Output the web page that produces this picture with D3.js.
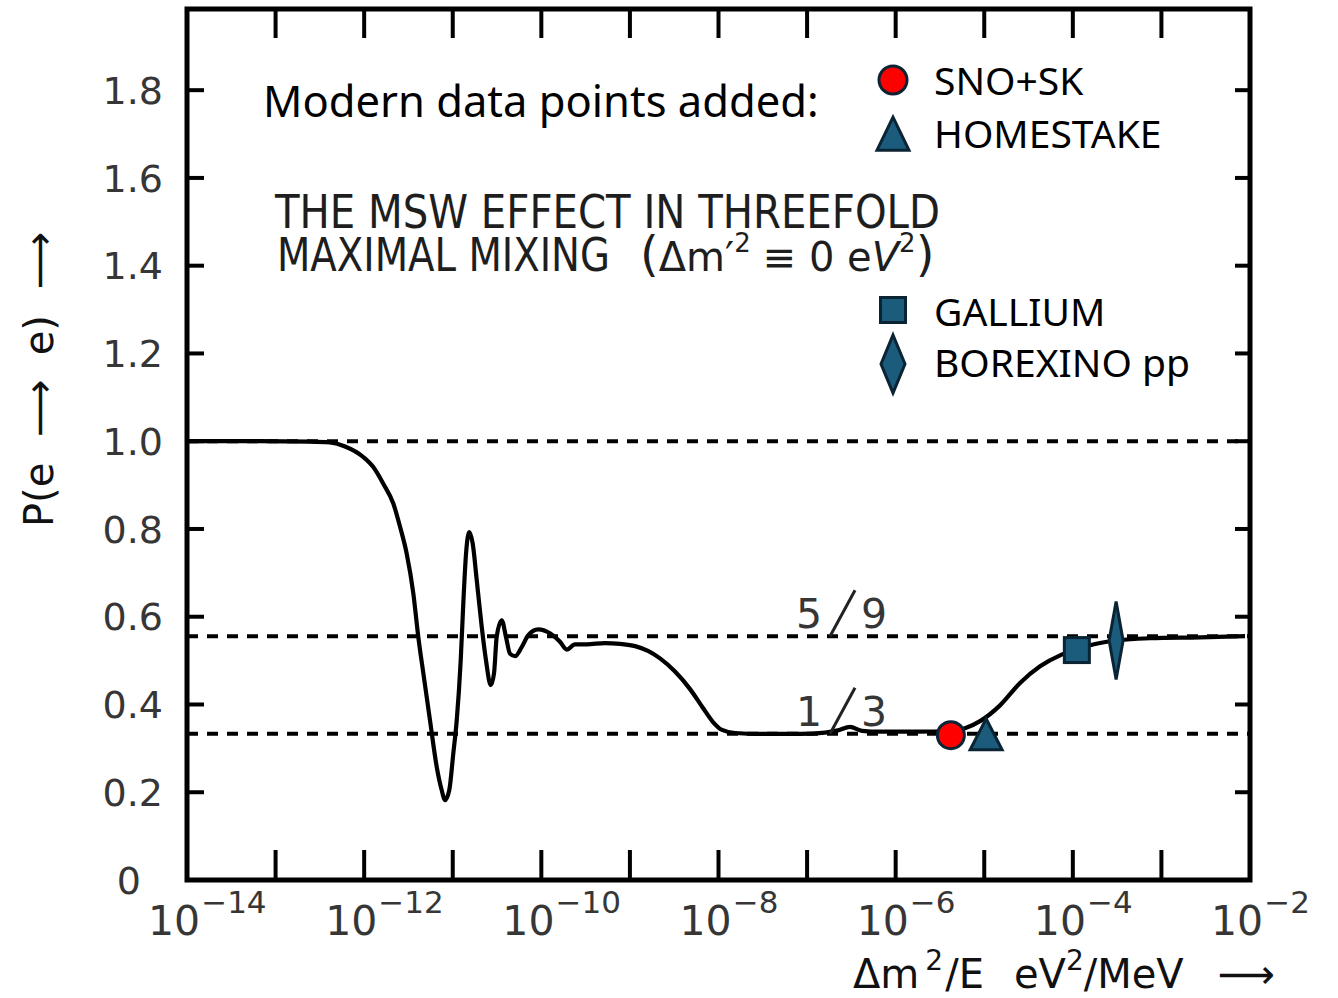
<!DOCTYPE html>
<html>
<head>
<meta charset="utf-8">
<script src="https://cdn.jsdelivr.net/npm/d3@7"></script>
<style>
  html, body { margin: 0; padding: 0; background: #ffffff; }
  svg { display: block; }
</style>
</head>
<body>
<div id="chart"></div>
<script>
// Electron-neutrino survival probability vs Δm²/E (threefold maximal mixing, MSW)
// Curve samples: log10(Δm²/E in eV²/MeV) and P(e→e)
const curveLogX = [
  -14.000, -13.180, -12.610, -12.386, -12.216, -12.010, -11.897, -11.784, -11.671, -11.595,
  -11.520, -11.445, -11.389, -11.332, -11.257, -11.181, -11.125, -11.087, -11.039, -10.994,
  -10.955, -10.910, -10.881, -10.850, -10.813, -10.775, -10.729, -10.673, -10.625, -10.571,
  -10.534, -10.504, -10.447, -10.399, -10.354, -10.297, -10.221, -10.147, -10.034, -9.902,
  -9.789, -9.713, -9.620, -9.488, -9.281, -9.112, -8.942, -8.796, -8.660, -8.491,
  -8.321, -8.175, -8.062, -7.960, -7.813, -7.531, -7.080, -6.797, -6.651, -6.515,
  -6.380, -6.177, -5.725, -5.443, -5.217, -5.047, -4.822, -4.596, -4.370, -4.144,
  -3.975, -3.806, -3.580, -3.128, -2.564, -2.056
];
const curveP = [
  1.000, 1.000, 0.999, 0.997, 0.988, 0.964, 0.941, 0.903, 0.858, 0.805,
  0.744, 0.653, 0.554, 0.471, 0.364, 0.258, 0.205, 0.182, 0.205, 0.288,
  0.364, 0.501, 0.630, 0.744, 0.793, 0.767, 0.683, 0.577, 0.501, 0.444,
  0.471, 0.554, 0.592, 0.554, 0.516, 0.510, 0.531, 0.558, 0.571, 0.562,
  0.543, 0.525, 0.537, 0.537, 0.540, 0.538, 0.533, 0.522, 0.505, 0.475,
  0.435, 0.392, 0.360, 0.342, 0.335, 0.333, 0.333, 0.336, 0.341, 0.349,
  0.340, 0.338, 0.338, 0.339, 0.346, 0.362, 0.398, 0.449, 0.487, 0.512,
  0.524, 0.535, 0.544, 0.551, 0.553, 0.5556
];

// Reference levels drawn dashed
const refLevels = [1.0, 5 / 9, 1 / 3];
const fractionLabels = [["5", "9"], ["1", "3"]];
const fractionValues = [5 / 9, 1 / 3];

// Experimental points
const expNames = ["SNO+SK", "HOMESTAKE", "GALLIUM", "BOREXINO pp"];
const expX = [4.2e-6, 1.05e-5, 1.11e-4, 3.08e-4];
const expP = [0.330, 0.321, 0.524, 0.546];
const expShape = ["circle", "triangle", "square", "diamond"];

// Axis ticks
const xTickExponents = [-14, -12, -10, -8, -6, -4, -2];
const xMinorExponents = d3.range(-13, -2);
const yTickValues = [0, 0.2, 0.4, 0.6, 0.8, 1.0, 1.2, 1.4, 1.6, 1.8];

(function draw() {
  const W = 1338, H = 998;
  const svg = d3.select("#chart").append("svg")
    .attr("width", W).attr("height", H)
    .attr("viewBox", `0 0 ${W} ${H}`);

  const pLeft = 187, pRight = 1250, pTop = 9, pBottom = 880;
  const xs = d3.scaleLog().domain([1e-14, 1e-2]).range([pLeft, pRight]);
  const ys = d3.scaleLinear().domain([0, 1.985]).range([pBottom, pTop]);

  const numFont = "'DejaVu Sans', sans-serif";
  const textFont = "'Noto Sans', 'Open Sans', sans-serif";
  const numColor = "#363636";
  const markFill = "#1b5b7b";
  const markStroke = "#0b2434";
  const longArrow = "\u27F6";

  // Dashed reference lines
  svg.append("g").selectAll("line").data(refLevels).join("line")
    .attr("x1", pLeft).attr("x2", pRight)
    .attr("y1", d => ys(d)).attr("y2", d => ys(d))
    .attr("stroke", "#000").attr("stroke-width", 4)
    .attr("stroke-dasharray", "11,9");

  // Frame ticks (inside)
  const ticks = svg.append("g").attr("stroke", "#000").attr("stroke-width", 4);
  xMinorExponents.forEach(e => {
    const x = xs(Math.pow(10, e));
    ticks.append("line").attr("x1", x).attr("x2", x).attr("y1", pTop).attr("y2", pTop + 29);
    ticks.append("line").attr("x1", x).attr("x2", x).attr("y1", pBottom).attr("y2", pBottom - 30);
  });
  yTickValues.filter(v => v > 0).forEach(v => {
    const y = ys(v);
    ticks.append("line").attr("x1", pLeft).attr("x2", pLeft + 17).attr("y1", y).attr("y2", y);
    ticks.append("line").attr("x1", pRight).attr("x2", pRight - 15).attr("y1", y).attr("y2", y);
  });

  // Frame
  svg.append("rect")
    .attr("x", pLeft).attr("y", pTop)
    .attr("width", pRight - pLeft).attr("height", pBottom - pTop)
    .attr("fill", "none").attr("stroke", "#000").attr("stroke-width", 5);

  // Y tick labels
  svg.append("g").selectAll("text").data(yTickValues).join("text")
    .attr("x", d => d === 0 ? 141 : 163)
    .attr("y", d => ys(d))
    .attr("dy", "0.36em")
    .attr("text-anchor", "end")
    .attr("font-family", numFont).attr("font-size", 38)
    .attr("fill", numColor)
    .text(d => d === 0 ? "0" : d.toFixed(1));

  // X tick labels: 10 with superscript exponent
  const xl = svg.append("g").attr("font-family", numFont).attr("fill", numColor);
  xTickExponents.forEach(e => {
    const t = xl.append("text")
      .attr("x", xs(Math.pow(10, e)) - 39).attr("y", 935)
      .attr("font-size", 41);
    t.append("tspan").text("10");
    t.append("tspan").attr("dy", -22).attr("dx", 1).attr("font-size", 31).text("\u2212" + Math.abs(e));
  });

  // Curve
  const line = d3.line()
    .x(d => xs(Math.pow(10, d[0])))
    .y(d => ys(d[1]))
    .curve(d3.curveMonotoneX);
  svg.append("path")
    .datum(curveLogX.map((x, i) => [x, curveP[i]]))
    .attr("d", line)
    .attr("fill", "none").attr("stroke", "#000")
    .attr("stroke-width", 4.2).attr("stroke-linejoin", "round");

  // Fraction labels above the 5/9 and 1/3 lines
  const slashFoot = Math.pow(10, -6.741);
  fractionValues.forEach((v, i) => {
    const xf = xs(slashFoot), yf = ys(v);
    const g = svg.append("g").attr("font-family", numFont).attr("font-size", 41).attr("fill", numColor);
    g.append("text").attr("x", xf - 8).attr("y", yf - 8).attr("text-anchor", "end").text(fractionLabels[i][0]);
    g.append("text").attr("x", xf + 31).attr("y", yf - 8).text(fractionLabels[i][1]);
    svg.append("line")
      .attr("x1", xf).attr("y1", yf)
      .attr("x2", xf + 25).attr("y2", yf - 46)
      .attr("stroke", "#222").attr("stroke-width", 3);
  });

  // Marker drawing helper
  function drawShape(g, shape, cx, cy, s) {
    let el;
    if (shape === "circle") {
      el = g.append("circle").attr("cx", cx).attr("cy", cy).attr("r", s.r).attr("fill", "#ff0000");
    } else if (shape === "triangle") {
      el = g.append("path")
        .attr("d", `M${cx},${cy - s.h * 0.66} L${cx + s.w / 2},${cy + s.h * 0.34} L${cx - s.w / 2},${cy + s.h * 0.34} Z`)
        .attr("fill", markFill);
    } else if (shape === "square") {
      el = g.append("rect").attr("x", cx - s.w / 2).attr("y", cy - s.w / 2)
        .attr("width", s.w).attr("height", s.w).attr("fill", markFill);
    } else {
      el = g.append("path")
        .attr("d", `M${cx},${cy - s.h / 2} L${cx + s.w / 2},${cy} L${cx},${cy + s.h / 2} L${cx - s.w / 2},${cy} Z`)
        .attr("fill", markFill);
    }
    el.attr("stroke", markStroke).attr("stroke-width", 3).attr("stroke-linejoin", "miter");
  }

  const plotSizes = [{ r: 13.5 }, { w: 32, h: 31 }, { w: 25 }, { w: 14, h: 78 }];
  const legendSizes = [{ r: 14 }, { w: 32, h: 33 }, { w: 25 }, { w: 24, h: 58 }];

  const pts = svg.append("g");
  expNames.forEach((n, i) => {
    drawShape(pts, expShape[i], xs(expX[i]), ys(expP[i]), plotSizes[i]);
  });

  // Legend
  const legendY = [80, 139, 310, 364];
  const legendTextY = [95, 148, 326, 377];
  const lg = svg.append("g");
  expNames.forEach((n, i) => {
    drawShape(lg, expShape[i], 893, legendY[i], legendSizes[i]);
    lg.append("text").attr("x", 934).attr("y", legendTextY[i])
      .attr("font-family", textFont).attr("font-size", 39).attr("fill", "#000")
      .text(n);
  });

  svg.append("text")
    .attr("x", 263).attr("y", 117)
    .attr("font-family", textFont).attr("font-size", 43.5).attr("fill", "#000")
    .text("Modern data points added:");

  // Title block
  const titleG = svg.append("g").attr("font-family", numFont).attr("fill", "#1e1e1e");
  titleG.append("text").attr("x", 275).attr("y", 228)
    .attr("font-size", 46).attr("textLength", 665).attr("lengthAdjust", "spacingAndGlyphs")
    .text("THE MSW EFFECT IN THREEFOLD");
  titleG.append("text").attr("x", 277).attr("y", 271)
    .attr("font-size", 46).attr("textLength", 333).attr("lengthAdjust", "spacingAndGlyphs")
    .text("MAXIMAL MIXING");
  const t2 = titleG.append("text").attr("x", 640).attr("y", 271).attr("font-size", 40);
  t2.append("tspan").attr("font-size", 48).text("(");
  t2.append("tspan").text("\u0394m\u2032");
  t2.append("tspan").attr("dy", -19).attr("font-size", 26).text("2");
  t2.append("tspan").attr("dy", 19).attr("dx", 12).text("\u2261 0 e");
  t2.append("tspan").attr("font-style", "italic").text("V");
  t2.append("tspan").attr("dy", -19).attr("font-size", 26).text("2");
  t2.append("tspan").attr("dy", 19).attr("font-size", 48).text(")");

  // Axis titles
  const yt = svg.append("text")
    .attr("transform", "translate(53,527) rotate(-90)")
    .attr("font-family", numFont).attr("font-size", 40).attr("fill", "#111");
  yt.append("tspan").text("P(e");
  yt.append("tspan").attr("dx", 26).text(longArrow);
  yt.append("tspan").attr("dx", 24).text("e)");
  yt.append("tspan").attr("dx", 26).text(longArrow);

  const xt = svg.append("text")
    .attr("x", 853).attr("y", 988)
    .attr("font-family", numFont).attr("font-size", 40).attr("fill", "#111");
  xt.append("tspan").text("\u0394m");
  xt.append("tspan").attr("dy", -18).attr("dx", 6).attr("font-size", 28).text("2");
  xt.append("tspan").attr("dy", 18).attr("dx", 2).text("/E");
  xt.append("tspan").attr("dx", 30).text("eV");
  xt.append("tspan").attr("dy", -18).attr("font-size", 28).text("2");
  xt.append("tspan").attr("dy", 18).text("/MeV");
  xt.append("tspan").attr("dx", 34).text(longArrow);
})();
</script>
</body>
</html>
